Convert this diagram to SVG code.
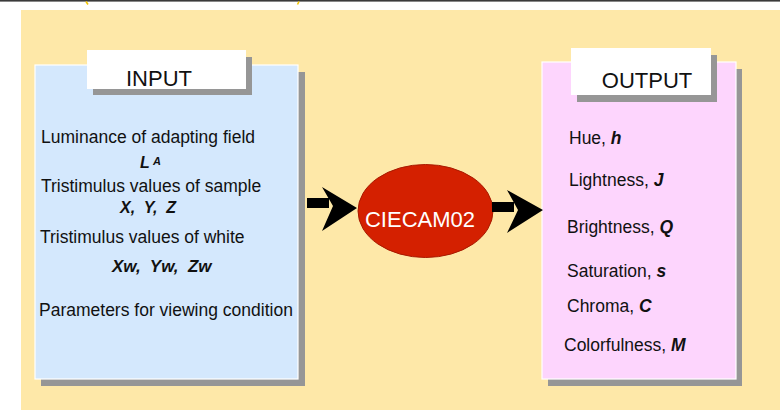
<svg xmlns="http://www.w3.org/2000/svg" width="780" height="410" viewBox="0 0 780 410">
  <style>
    .txt { font-family: "Liberation Sans", Arial, sans-serif; font-size: 17.5px; fill: #111; }
    .var { font-weight: bold; font-style: italic; }
    .hdr { font-family: "Liberation Sans", Arial, sans-serif; font-size: 22px; fill: #111; }
    .shadow { fill: #969696; }
    .tag { fill: #ffffff; }
    .arrow { fill: #000000; }
  </style>

  <!-- page -->
  <rect x="0" y="0" width="780" height="410" fill="#ffffff"/>
  <rect x="0" y="0" width="780" height="1.6" fill="#3a3a3a"/>
  <path d="M86 1.5 L88 4.5 M299 1.5 L297.5 4.5" stroke="#f2c600" stroke-width="1.6" fill="none"/>
  <rect x="21" y="10" width="759" height="400" fill="#fee8a8"/>

  <!-- input panel -->
  <g id="input">
    <rect class="shadow" x="41" y="72" width="264" height="314"/>
    <rect x="35" y="65" width="263" height="314" fill="#d4e8fd" stroke="#ffffff" stroke-width="1.2"/>
    <rect class="shadow" x="93" y="57" width="159" height="38"/>
    <rect class="tag" x="87" y="50" width="159" height="39"/>
    <text class="hdr" x="159" y="86" text-anchor="middle">INPUT</text>
    <text class="txt" x="41" y="143">Luminance of adapting field</text>
    <text class="txt var" x="140" y="168" style="font-size:16px">L</text>
    <text class="txt var" x="153" y="165" style="font-size:11px">A</text>
    <text class="txt" x="41" y="192">Tristimulus values of sample</text>
    <text class="txt var" x="120" y="213" style="font-size:16px" xml:space="preserve">X,  Y,  Z</text>
    <text class="txt" x="40" y="243">Tristimulus values of white</text>
    <text class="txt var" x="112" y="272" style="font-size:17px" xml:space="preserve">Xw,  Yw,  Zw</text>
    <text class="txt" x="39" y="316">Parameters for viewing condition</text>
  </g>

  <!-- model -->
  <g id="ciecam02">
    <ellipse cx="425.5" cy="211" rx="67.5" ry="46.5" fill="#d42000" stroke="#a81a00" stroke-width="1"/>
    <text x="420" y="227" text-anchor="middle" font-family="Liberation Sans, Arial, sans-serif" font-size="22" fill="#ffffff">CIECAM02</text>
  </g>

  <!-- output panel -->
  <g id="output">
    <rect class="shadow" x="548" y="69" width="194" height="317"/>
    <rect x="542" y="62" width="194" height="317" fill="#fdd5fd" stroke="#ffffff" stroke-width="1.2"/>
    <rect class="shadow" x="577" y="55" width="140" height="47"/>
    <rect class="tag" x="571" y="48" width="140" height="47"/>
    <text class="hdr" x="647" y="88" text-anchor="middle">OUTPUT</text>
    <text class="txt" x="569" y="144">Hue, <tspan class="var">h</tspan></text>
    <text class="txt" x="569" y="186">Lightness, <tspan class="var">J</tspan></text>
    <text class="txt" x="567" y="233">Brightness, <tspan class="var">Q</tspan></text>
    <text class="txt" x="567" y="277">Saturation, <tspan class="var">s</tspan></text>
    <text class="txt" x="567" y="312">Chroma, <tspan class="var">C</tspan></text>
    <text class="txt" x="564" y="351">Colorfulness, <tspan class="var">M</tspan></text>
  </g>

  <!-- connectors -->
  <g id="connectors">
    <rect class="arrow" x="307" y="198" width="22" height="10"/>
    <polygon class="arrow" points="322,187 357,208 322,231 333,206"/>
    <rect class="arrow" x="492" y="202" width="22" height="10"/>
    <polygon class="arrow" points="507,190 543,210 507,233 518,210"/>
  </g>
</svg>
